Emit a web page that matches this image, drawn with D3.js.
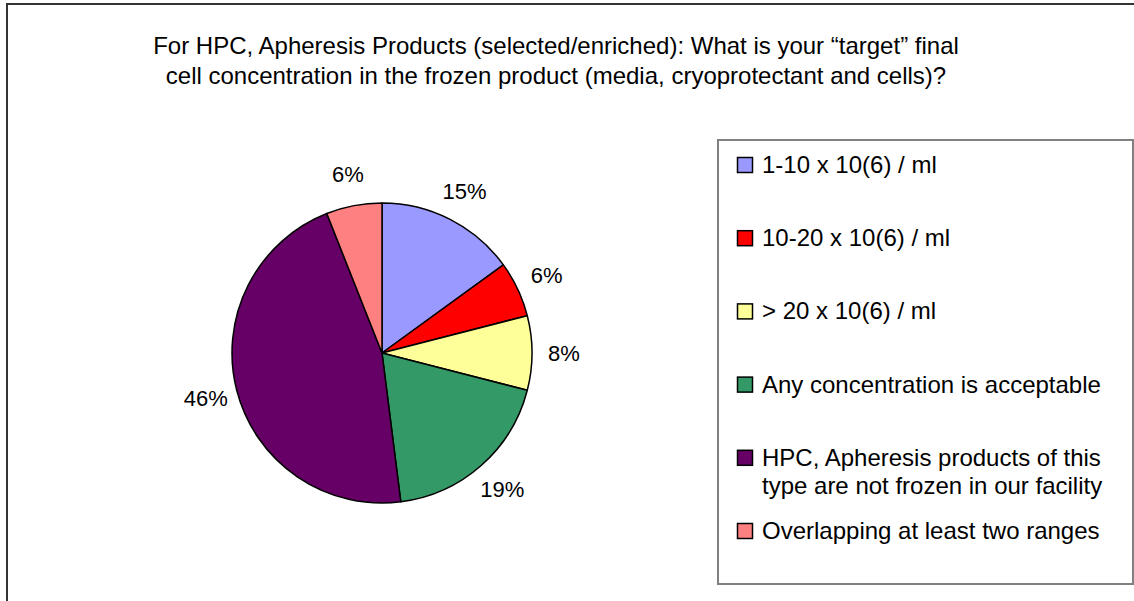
<!DOCTYPE html>
<html>
<head>
<meta charset="utf-8">
<script src="https://cdn.jsdelivr.net/npm/d3@7"></script>
<style>
  body { margin: 0; background: #fff; }
  svg { display: block; font-family: "Liberation Sans", Arial, sans-serif; }
</style>
</head>
<body>
<div class="chart"></div>
<script>
// Data

const titleLines = [
  "For HPC, Apheresis Products (selected/enriched): What is your \u201ctarget\u201d final",
  "cell concentration in the frozen product (media, cryoprotectant and cells)?",
];
const categories = [
  "1-10 x 10(6) / ml",
  "10-20 x 10(6) / ml",
  "> 20 x 10(6) / ml",
  "Any concentration is acceptable",
  "HPC, Apheresis products of this type are not frozen in our facility",
  "Overlapping at least two ranges",
];
const values = [15, 6, 8, 19, 46, 6];
const colors = ["#9999ff", "#ff0000", "#ffff99", "#339966", "#660066", "#ff8080"];

// Measurements

const width = 1134;
const height = 601;
const cx = 382;
const cy = 353;
const radius = 150;
const labelRadius = 182;

const svg = d3
  .select(".chart")
  .append("svg")
  .attr("width", width)
  .attr("height", height);

// Outer frame (right and bottom run off the page)

svg
  .append("rect")
  .attr("x", 7)
  .attr("y", 4)
  .attr("width", 1200)
  .attr("height", 700)
  .attr("fill", "none")
  .attr("stroke", "#333")
  .attr("stroke-width", 2);

// Title

svg
  .append("g")
  .selectAll("text")
  .data(titleLines)
  .enter()
  .append("text")
  .attr("x", 556)
  .attr("y", (d, i) => 54 + i * 30)
  .attr("text-anchor", "middle")
  .attr("font-size", 24)
  .attr("fill", "#000")
  .text((d) => d);

// Pie

const pie = d3.pie().sort(null).value((d) => d);
const arcs = pie(values);
const arc = d3.arc().innerRadius(0).outerRadius(radius);

const pieG = svg.append("g").attr("transform", `translate(${cx}, ${cy})`);

pieG
  .selectAll("path")
  .data(arcs)
  .enter()
  .append("path")
  .attr("d", arc)
  .attr("fill", (d, i) => colors[i])
  .attr("stroke", "#000")
  .attr("stroke-width", 1.5)
  .attr("stroke-linejoin", "round");

// Slice labels

const labelArc = d3.arc().innerRadius(labelRadius).outerRadius(labelRadius);

pieG
  .selectAll("text")
  .data(arcs)
  .enter()
  .append("text")
  .attr("transform", (d) => `translate(${labelArc.centroid(d)})`)
  .attr("text-anchor", "middle")
  .attr("dy", "0.35em")
  .attr("font-size", 22)
  .attr("fill", "#000")
  .text((d) => d.data + "%");

// Legend

const legendX = 718;
const legendY = 140;
const legendW = 415;
const legendH = 444;

svg
  .append("rect")
  .attr("x", legendX)
  .attr("y", legendY)
  .attr("width", legendW)
  .attr("height", legendH)
  .attr("fill", "#fff")
  .attr("stroke", "#808080")
  .attr("stroke-width", 2);

const rowY = d3
  .scalePoint()
  .domain(d3.range(categories.length))
  .range([165, 531]);

const legend = svg.append("g").attr("class", "legend");

const item = legend
  .selectAll("g")
  .data(categories)
  .enter()
  .append("g")
  .attr("transform", (d, i) => `translate(0, ${rowY(i)})`);

item
  .append("rect")
  .attr("x", 737.5)
  .attr("y", -7.5)
  .attr("width", 15)
  .attr("height", 15)
  .attr("fill", (d, i) => colors[i])
  .attr("stroke", "#000")
  .attr("stroke-width", 1.5);

// Wrap legend text into the box

const maxTextW = 345;
item.each(function (d) {
  const words = d.split(" ");
  const t = d3
    .select(this)
    .append("text")
    .attr("x", 762)
    .attr("y", 8)
    .attr("font-size", 24)
    .attr("fill", "#000");
  let line = [];
  let tspan = t.append("tspan").attr("x", 762).attr("dy", 0);
  words.forEach((w) => {
    line.push(w);
    tspan.text(line.join(" "));
    if (tspan.node().getComputedTextLength() > maxTextW && line.length > 1) {
      line.pop();
      tspan.text(line.join(" "));
      line = [w];
      tspan = t.append("tspan").attr("x", 762).attr("dy", 28).text(w);
    }
  });
});
</script>
</body>
</html>
